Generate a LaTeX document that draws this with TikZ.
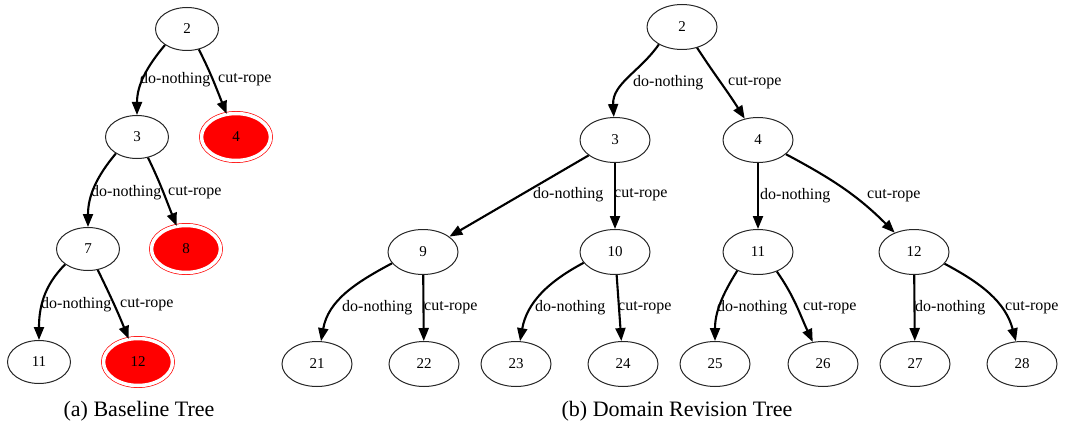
\documentclass[tikz,border=0pt]{standalone}
\usepackage{fontspec}
\setmainfont{Liberation Serif}
\newfontfamily\timesfont{Liberation Serif}
\usepackage{tikz}
\usetikzlibrary{positioning}
\usetikzlibrary{shapes.geometric,arrows.meta}

\tikzset{
	state/.style={ellipse, draw=black!85, line width=1pt, minimum width=70pt,
		minimum height=45pt, inner sep=0pt, font=\timesfont\fontsize{15}{18}\selectfont},
	lstate/.style={state, minimum width=63pt, minimum height=43pt},
	goal/.style={lstate, fill=red, draw=red, double=white, double distance=3.5pt,
		line width=0.7pt, minimum width=69pt, minimum height=47pt},
	arc/.style={-{Triangle[length=13pt,width=10pt]}, line width=2.1pt},
	act/.style={anchor=west, inner sep=0pt, font=\timesfont\fontsize{16}{19}\selectfont},
	caption/.style={font=\timesfont\fontsize{22}{26}\selectfont}
}

\begin{document}
\begin{tikzpicture}[x=1pt,y=1pt]

	\useasboundingbox (0,0) rectangle (1070,-425);

	% (a) the baseline tree
	% NOTE: goal states are the red double ellipses
	\node[lstate] (L2)  at (187,-29)  {2};
	\node[lstate] (L3)  at (137,-137) {3};
	\node[goal]   (L4)  at (236,-137) {4};
	\node[lstate] (L7)  at (88,-249)  {7};
	\node[goal]   (L8)  at (186,-249) {8};
	\node[lstate] (L11) at (39,-362)  {11};
	\node[goal]   (L12) at (138,-362) {12};

	\draw[arc] (L2.-144) to[out=-130,in=90] (L3);
	\draw[arc] (L2.-60)  to[out=-63,in=112] (L4);
	\draw[arc] (L3.-142) to[out=-130,in=90] (L7);
	\draw[arc] (L3.-62)  to[out=-64,in=112] (L8);
	\draw[arc] (L7.-146) to[out=-135,in=90] (L11);
	\draw[arc] (L7.-65)  to[out=-64,in=112] (L12);

	\node[act] (aL2n) at (140,-80)  {do-nothing};
	\node[act] (aL2c) at (218,-80)  {cut-rope};
	\node[act] (aL3n) at (91,-193)  {do-nothing};
	\node[act] (aL3c) at (168,-193) {cut-rope};
	\node[act] (aL7n) at (41,-305)  {do-nothing};
	\node[act] (aL7c) at (120,-305) {cut-rope};

	\node[caption] (capA) at (139,-411) {(a) Baseline Tree};

	% (b) the domain revision tree
	\node[state] (R2)  at (682,-27)  {2};
	\node[state] (R3)  at (615,-140) {3};
	\node[state] (R4)  at (758,-140) {4};
	\node[state] (R9)  at (423,-252) {9};
	\node[state] (R10) at (615,-252) {10};
	\node[state] (R11) at (758,-252) {11};
	\node[state] (R12) at (914,-252) {12};
	\node[state] (R21) at (317,-364) {21};
	\node[state] (R22) at (424,-364) {22};
	\node[state] (R23) at (516,-364) {23};
	\node[state] (R24) at (623,-364) {24};
	\node[state] (R25) at (715,-364) {25};
	\node[state] (R26) at (823,-364) {26};
	\node[state] (R27) at (915,-364) {27};
	\node[state] (R28) at (1022,-364) {28};

	\draw[arc] (R2.-143) to[out=-125,in=93] (R3);
	\draw[arc] (R2.-54)  to[out=-57,in=122] (R4);
	\draw[arc] (R3) -- (R9);
	\draw[arc] (R3) -- (R10);
	\draw[arc] (R4) -- (R11);
	\draw[arc] (R4.-27)  to[out=-28,in=135] (R12);
	\draw[arc] (R9.-160) to[out=-152,in=80] (R21);
	\draw[arc] (R9) -- (R22);
	\draw[arc] (R10.-161) to[out=-152,in=80] (R23);
	\draw[arc] (R10) -- (R24);
	\draw[arc] (R11.-138) to[out=-122,in=90] (R25);
	\draw[arc] (R11.-46)  to[out=-55,in=115] (R26);
	\draw[arc] (R12) -- (R27);
	\draw[arc] (R12.-21)  to[out=-28,in=105] (R28);

	\node[act] (aR2n)  at (633,-83)  {do-nothing};
	\node[act] (aR2c)  at (728,-83)  {cut-rope};
	\node[act] (aR3n)  at (533,-195) {do-nothing};
	\node[act] (aR3c)  at (614,-195) {cut-rope};
	\node[act] (aR4n)  at (760,-196) {do-nothing};
	\node[act] (aR4c)  at (867,-196) {cut-rope};
	\node[act] (aR9n)  at (342,-308) {do-nothing};
	\node[act] (aR9c)  at (424,-308) {cut-rope};
	\node[act] (aR10n) at (535,-308) {do-nothing};
	\node[act] (aR10c) at (618,-308) {cut-rope};
	\node[act] (aR11n) at (717,-308) {do-nothing};
	\node[act] (aR11c) at (803,-308) {cut-rope};
	\node[act] (aR12n) at (915,-308) {do-nothing};
	\node[act] (aR12c) at (1005,-308) {cut-rope};

	\node[caption] (capB) at (677,-411) {(b) Domain Revision Tree};

\end{tikzpicture}
\end{document}
